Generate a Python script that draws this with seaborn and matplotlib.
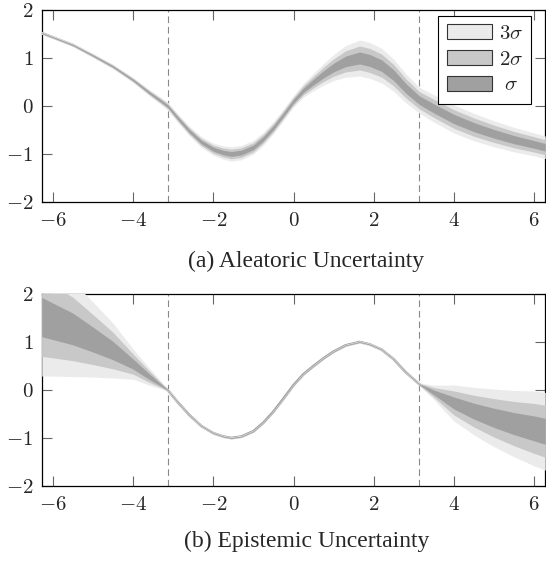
import numpy as np
import pandas as pd
import matplotlib
matplotlib.use('Agg')
import matplotlib.pyplot as plt
import matplotlib.patches as mpatches
import seaborn as sns

# ── data ──────────────────────────────────────────────────────────────
x_pts = [-6.28, -6.0, -5.5, -5.0, -4.5, -4.0, -3.6, -3.3, -3.14, -2.9, -2.6, -2.3, -2.0,
         -1.75, -1.55, -1.3, -1.0, -0.75, -0.5, -0.25, 0.0, 0.25, 0.5, 0.75, 1.0, 1.3,
         1.65, 1.9, 2.2, 2.5, 2.8, 3.14, 3.5, 4.0, 4.5, 5.0, 5.5, 6.0, 6.28]
mean_pts = [1.52, 1.43, 1.27, 1.05, 0.82, 0.54, 0.28, 0.10, 0.0, -0.24, -0.52, -0.75, -0.90,
            -0.97, -1.0, -0.97, -0.86, -0.68, -0.45, -0.18, 0.10, 0.33, 0.50, 0.66, 0.80, 0.93,
            1.0, 0.95, 0.84, 0.64, 0.37, 0.12, -0.05, -0.27, -0.44, -0.58, -0.70, -0.80, -0.86]
sigma_aleatoric = [0.010, 0.010, 0.012, 0.014, 0.016, 0.018, 0.022, 0.025, 0.027, 0.030, 0.033,
                   0.037, 0.042, 0.046, 0.050, 0.050, 0.048, 0.045, 0.042, 0.040, 0.040, 0.048,
                   0.060, 0.075, 0.090, 0.110, 0.125, 0.125, 0.120, 0.112, 0.100, 0.090, 0.095,
                   0.097, 0.095, 0.090, 0.085, 0.080, 0.078]
sigma_epistemic = [0.41, 0.38, 0.33, 0.26, 0.19, 0.105, 0.06, 0.025, 0.010, 0.008, 0.008, 0.008,
                   0.008, 0.008, 0.008, 0.008, 0.008, 0.008, 0.008, 0.008, 0.008, 0.008, 0.008,
                   0.008, 0.008, 0.008, 0.008, 0.008, 0.008, 0.008, 0.008, 0.010, 0.05, 0.125,
                   0.165, 0.20, 0.23, 0.26, 0.27]
captions = ['(a) Aleatoric Uncertainty', '(b) Epistemic Uncertainty']
band_labels = [r'$3\sigma$', r'$2\sigma$', r'$\;\sigma$']
band_colors = ['#ebebeb', '#c8c8c8', '#a0a0a0']
x_ticks = [-6, -4, -2, 0, 2, 4, 6]
y_ticks = [-2, -1, 0, 1, 2]

df = pd.DataFrame({'x': x_pts, 'mean': mean_pts,
                   'aleatoric': sigma_aleatoric, 'epistemic': sigma_epistemic})

sns.set_style('ticks')
plt.rcParams.update({'mathtext.fontset': 'cm', 'font.family': 'Liberation Serif'})

fig = plt.figure(figsize=(5.46, 5.61), dpi=100)
W, H = 546, 561
panels = [('aleatoric', 10, 261.7), ('epistemic', 294, 541.7)]

for i, (col, top_px, cap_px) in enumerate(panels):
    ax = fig.add_axes([41.6 / W, 1 - (top_px + 192) / H, 503.8 / W, 192 / H])
    # mean line sits under the bands, only peeks out where they are thin
    sns.lineplot(data=df, x='x', y='mean', ax=ax, color='#a0a0a0', linewidth=1.9, zorder=2.8)
    for k, c in zip([3, 2, 1], band_colors):
        ax.fill_between(df['x'], df['mean'] - k * df[col], df['mean'] + k * df[col],
                        color=c, linewidth=0, zorder=3)
    for xv in [-np.pi, np.pi]:
        ax.axvline(xv, color='#888888', linewidth=0.8, dashes=(6, 3.5), zorder=2)
    ax.set_xlim(-2 * np.pi, 2 * np.pi)
    ax.set_ylim(-2, 2)
    ax.set_xticks(x_ticks)
    ax.set_yticks(y_ticks)
    ax.set_xticklabels([f'${v}$' for v in x_ticks], fontsize=15)
    ax.set_yticklabels([f'${v}$' for v in y_ticks], fontsize=15)
    ax.tick_params(direction='in', length=7, width=0.8, color='#666666',
                   top=True, right=True, labelsize=15)
    ax.tick_params(axis='x', pad=7)
    ax.tick_params(axis='y', pad=6)
    for s in ax.spines.values():
        s.set_linewidth(0.9)
        s.set_color('black')
    ax.set_xlabel('')
    ax.set_ylabel('')
    fig.text(306.5 / W, 1 - cap_px / H, captions[i], ha='center', va='center', fontsize=17)

    if i == 0:
        handles = [mpatches.Patch(facecolor=c, edgecolor='#333333', linewidth=0.8, label=l)
                   for c, l in zip(band_colors, band_labels)]
        leg = ax.legend(handles=handles, loc='upper right', fontsize=15,
                        bbox_to_anchor=(489.6 / 503.8, 1 - 6 / 192),
                        fancybox=False, framealpha=1, edgecolor='black',
                        handlelength=2.2, handleheight=0.7, labelspacing=0.3,
                        handletextpad=0.3, borderpad=0.4, borderaxespad=0)
        leg.get_frame().set_linewidth(0.8)
        leg.set_zorder(6)

plt.savefig('out.png', dpi=100)
plt.close()
